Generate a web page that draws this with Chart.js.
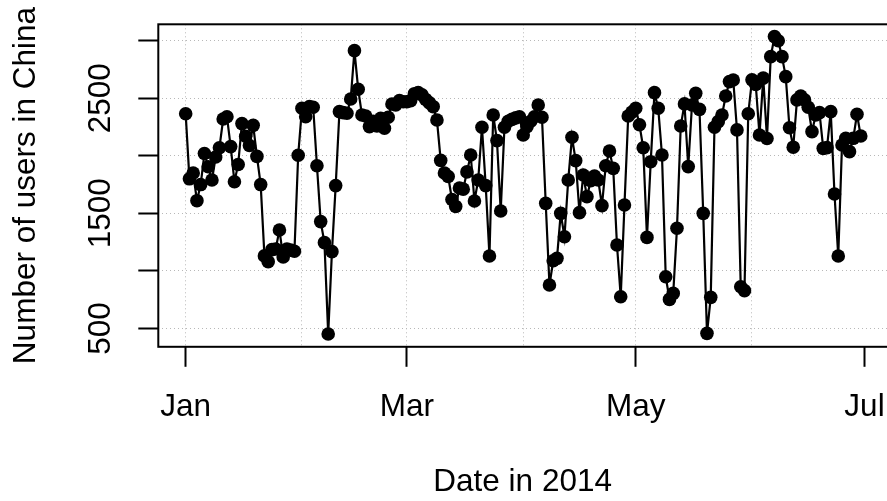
<!DOCTYPE html>
<html>
<head>
<meta charset="utf-8">
<script src="https://cdn.jsdelivr.net/npm/chart.js@4.4.1/dist/chart.umd.min.js"></script>
<style>
  html, body { margin: 0; padding: 0; background: #fff; }
  #wrap { width: 887px; height: 501px; }
</style>
</head>
<body>
<div id="wrap"><canvas id="usersChart" width="887" height="501"></canvas></div>
<script>
  // daily users in China, 2014, one array per month (Jan 1 = day 0)
  const janUsers = [2365, 1800, 1850, 1610, 1750, 2020, 1905, 1790, 1990, 2070, 2320, 2340, 2080, 1775, 1925, 2280,
                    2170, 2090, 2265, 1995, 1750, 1130, 1080, 1185, 1190, 1355, 1120, 1190, 1180, 1170, 2005];
  const febUsers = [2413, 2340, 2428, 2422, 1914, 1428, 1245, 451, 1167, 1741, 2384, 2375, 2370, 2494, 2914, 2578,
                    2355, 2346, 2254, 2300, 2259, 2326, 2239, 2335, 2450, 2443, 2480, 2470];
  const marUsers = [2470, 2480, 2540, 2550, 2530, 2490, 2460, 2427, 2311, 1960, 1850, 1820, 1620, 1560, 1720, 1710,
                    1860, 2007, 1607, 1790, 2248, 1741, 1129, 2355, 2132, 1520, 2248, 2300, 2317, 2330, 2340];
  const aprUsers = [2181, 2254, 2300, 2340, 2442, 2335, 1587, 877, 1088, 1109, 1500, 1297, 1790, 2161, 1958, 1506,
                    1833, 1645, 1784, 1825, 1790, 1567, 1914, 2042, 1891, 1225, 775, 1572, 2346, 2380];
  const mayUsers = [2413, 2270, 2070, 1291, 1949, 2549, 2413, 2007, 949, 752, 804, 1370, 2259, 2451, 1906, 2442,
                    2543, 2404, 1500, 457, 770, 2248, 2297, 2355, 2520, 2645, 2659, 2225, 862, 828, 2365];
  const junUsers = [2660, 2620, 2181, 2675, 2150, 2862, 3036, 3000, 2862, 2688, 2244, 2075, 2486, 2520, 2486, 2422,
                    2210, 2355, 2375, 2065, 2071, 2384, 1668, 1129, 2094, 2152, 2036, 2152, 2361, 2172];

  // x axis: day offsets of the 1st of each month
  const monthStarts = [0, 31, 59, 90, 120, 151, 181];
  const monthNames = ['Jan', 'Feb', 'Mar', 'Apr', 'May', 'Jun', 'Jul'];
  const labelledMonths = ['Jan', 'Mar', 'May', 'Jul'];
  const gridMonths = ['Jan', 'Feb', 'Mar', 'Apr', 'May', 'Jun'];

  // y axis
  const yTicks = [500, 1000, 1500, 2000, 2500, 3000];
  const yLabels = [500, 1500, 2500];

  const dailyUsers = [].concat(janUsers, febUsers, marUsers, aprUsers, mayUsers, junUsers);
  const points = dailyUsers.map((v, i) => ({ x: i, y: v }));

  const FONT = '"Liberation Sans", Arial, Helvetica, sans-serif';
  const FS = 31.5;
  const GRID = '#b8b8b8';
  Chart.defaults.font.family = FONT;
  Chart.defaults.color = '#000';

  const monthOf = v => monthNames[monthStarts.indexOf(v)];

  // R style frame + rotated y tick labels
  const rFrame = {
    id: 'rFrame',
    afterDraw(chart) {
      const { ctx, chartArea: a, scales: { y } } = chart;
      ctx.save();
      ctx.strokeStyle = '#000';
      ctx.lineWidth = 2;
      ctx.strokeRect(a.left, a.top, a.right - a.left + 3, a.bottom - a.top);
      ctx.fillStyle = '#000';
      ctx.font = FS + 'px ' + FONT;
      ctx.textAlign = 'center';
      ctx.textBaseline = 'alphabetic';
      yLabels.forEach(v => {
        ctx.save();
        ctx.translate(a.left - 48, y.getPixelForValue(v));
        ctx.rotate(-Math.PI / 2);
        ctx.fillText(String(v), 0, 0);
        ctx.restore();
      });
      ctx.restore();
    }
  };

  new Chart(document.getElementById('usersChart'), {
    type: 'line',
    data: {
      datasets: [{
        data: points,
        borderColor: '#000',
        borderWidth: 2.2,
        pointRadius: 6.8,
        pointHoverRadius: 6.8,
        pointBackgroundColor: '#000',
        pointBorderWidth: 0,
        tension: 0,
        fill: false
      }]
    },
    options: {
      responsive: false,
      animation: false,
      events: [],
      layout: { autoPadding: false, padding: { top: 24.3, left: 0, right: 0, bottom: 0 } },
      plugins: { legend: { display: false }, tooltip: { enabled: false } },
      scales: {
        x: {
          type: 'linear',
          min: -7.3,
          max: 187,
          afterBuildTicks: axis => { axis.ticks = monthStarts.map(v => ({ value: v })); },
          ticks: {
            autoSkip: false,
            maxRotation: 0,
            padding: 0,
            color: '#000',
            font: { size: FS, lineHeight: 2.6 },
            callback: v => labelledMonths.includes(monthOf(v)) ? monthOf(v) : ''
          },
          grid: {
            color: c => gridMonths.includes(monthOf(c.tick.value)) ? GRID : 'rgba(0,0,0,0)',
            lineWidth: 1,
            tickLength: 20,
            tickWidth: 2,
            tickColor: c => labelledMonths.includes(monthOf(c.tick.value)) ? '#000' : 'rgba(0,0,0,0)'
          },
          border: { display: false, dash: [1, 3] },
          title: {
            display: true,
            text: 'Date in 2014',
            color: '#000',
            font: { size: FS },
            padding: { top: 14.5, bottom: 0 }
          }
        },
        y: {
          min: 340,
          max: 3143,
          afterBuildTicks: axis => { axis.ticks = yTicks.map(v => ({ value: v })); },
          ticks: { display: false },
          grid: {
            color: GRID,
            lineWidth: 1,
            tickLength: 20,
            tickWidth: 2,
            tickColor: '#000'
          },
          border: { display: false, dash: [1, 3] },
          title: {
            display: true,
            text: 'Number of users in China',
            color: '#000',
            font: { size: FS },
            padding: { top: 7, bottom: 93.5 }
          }
        }
      }
    },
    plugins: [rFrame]
  });
</script>
</body>
</html>
